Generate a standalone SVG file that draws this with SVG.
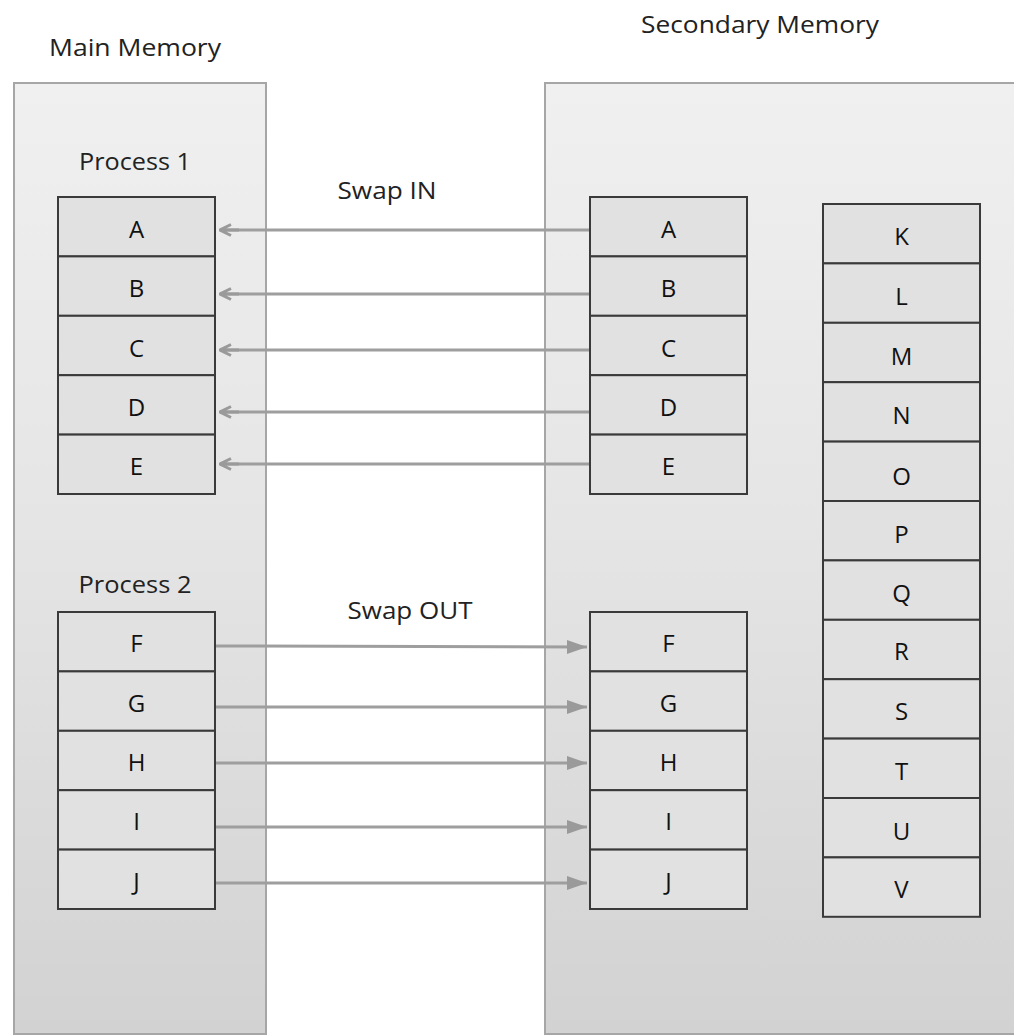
<svg xmlns="http://www.w3.org/2000/svg" width="1014" height="1036" viewBox="0 0 1014 1036">
<defs>
<linearGradient id="cg" x1="0" y1="0" x2="0" y2="1">
<stop offset="0" stop-color="#f0f0f0"/>
<stop offset="0.5" stop-color="#e4e4e4"/>
<stop offset="1" stop-color="#d2d2d2"/>
</linearGradient>
<marker id="hin" viewBox="0 0 20 16" refX="19" refY="8" markerWidth="20" markerHeight="16" markerUnits="userSpaceOnUse" orient="auto">
<path d="M0,8 L19,8 M8,2.5 L19,8 L8,13.5" stroke="#9a9a9a" stroke-width="3" fill="none"/>
</marker>
<marker id="hout" viewBox="0 0 20 16" refX="20" refY="8" markerWidth="20" markerHeight="16" markerUnits="userSpaceOnUse" orient="auto">
<path d="M0,1 L20,8 L0,15 Z" fill="#9a9a9a"/>
</marker>
</defs>
<style>
.box{fill:url(#cg);stroke:#a6a6a6;stroke-width:2}
.cell{fill:#e1e1e1;stroke:#3a3a3a;stroke-width:2}
.t{font-family:"Open Sans","Liberation Sans",sans-serif;font-size:24px;fill:#222;text-anchor:middle}
.c{font-family:"Open Sans","Liberation Sans",sans-serif;font-size:24px;fill:#111;text-anchor:middle;dominant-baseline:central}
.ar{stroke:#9e9e9e;stroke-width:3;fill:none}
</style>
<rect width="1014" height="1036" fill="#ffffff"/>
<g id="main-memory">
<rect class="box" x="14" y="83" width="252" height="951"/>
<text class="t" x="135" y="56" textLength="172" lengthAdjust="spacingAndGlyphs">Main Memory</text>
</g>
<g id="secondary-memory">
<rect class="box" x="545" y="83" width="480" height="951"/>
<text class="t" x="760" y="33" textLength="238" lengthAdjust="spacingAndGlyphs">Secondary Memory</text>
</g>
<text class="t" x="135" y="170" textLength="112" lengthAdjust="spacingAndGlyphs">Process 1</text>
<text class="t" x="135" y="593" textLength="113" lengthAdjust="spacingAndGlyphs">Process 2</text>
<text class="t" x="387" y="199" textLength="99" lengthAdjust="spacingAndGlyphs">Swap IN</text>
<text class="t" x="410" y="619" textLength="125" lengthAdjust="spacingAndGlyphs">Swap OUT</text>
<g id="p1">
<g id="p1-A"><rect class="cell" x="58" y="197" width="157" height="59.4"/><text class="c" x="136.5" y="228">A</text></g>
<g id="p1-B"><rect class="cell" x="58" y="256.4" width="157" height="59.4"/><text class="c" x="136.5" y="287">B</text></g>
<g id="p1-C"><rect class="cell" x="58" y="315.8" width="157" height="59.4"/><text class="c" x="136.5" y="347">C</text></g>
<g id="p1-D"><rect class="cell" x="58" y="375.2" width="157" height="59.4"/><text class="c" x="136.5" y="406">D</text></g>
<g id="p1-E"><rect class="cell" x="58" y="434.6" width="157" height="59.4"/><text class="c" x="136.5" y="465">E</text></g>
</g>
<g id="p2">
<g id="p2-F"><rect class="cell" x="58" y="612" width="157" height="59.4"/><text class="c" x="136.5" y="642">F</text></g>
<g id="p2-G"><rect class="cell" x="58" y="671.4" width="157" height="59.4"/><text class="c" x="136.5" y="702">G</text></g>
<g id="p2-H"><rect class="cell" x="58" y="730.8" width="157" height="59.4"/><text class="c" x="136.5" y="761">H</text></g>
<g id="p2-I"><rect class="cell" x="58" y="790.2" width="157" height="59.4"/><text class="c" x="136.5" y="820">I</text></g>
<g id="p2-J"><rect class="cell" x="58" y="849.6" width="157" height="59.4"/><text class="c" x="136.5" y="880">J</text></g>
</g>
<g id="s1">
<g id="s-A"><rect class="cell" x="590" y="197" width="157" height="59.4"/><text class="c" x="668.5" y="228">A</text></g>
<g id="s-B"><rect class="cell" x="590" y="256.4" width="157" height="59.4"/><text class="c" x="668.5" y="287">B</text></g>
<g id="s-C"><rect class="cell" x="590" y="315.8" width="157" height="59.4"/><text class="c" x="668.5" y="347">C</text></g>
<g id="s-D"><rect class="cell" x="590" y="375.2" width="157" height="59.4"/><text class="c" x="668.5" y="406">D</text></g>
<g id="s-E"><rect class="cell" x="590" y="434.6" width="157" height="59.4"/><text class="c" x="668.5" y="465">E</text></g>
</g>
<g id="s2">
<g id="s-F"><rect class="cell" x="590" y="612" width="157" height="59.4"/><text class="c" x="668.5" y="642">F</text></g>
<g id="s-G"><rect class="cell" x="590" y="671.4" width="157" height="59.4"/><text class="c" x="668.5" y="702">G</text></g>
<g id="s-H"><rect class="cell" x="590" y="730.8" width="157" height="59.4"/><text class="c" x="668.5" y="761">H</text></g>
<g id="s-I"><rect class="cell" x="590" y="790.2" width="157" height="59.4"/><text class="c" x="668.5" y="820">I</text></g>
<g id="s-J"><rect class="cell" x="590" y="849.6" width="157" height="59.4"/><text class="c" x="668.5" y="880">J</text></g>
</g>
<g id="s3">
<g id="s-K"><rect class="cell" x="823" y="204" width="157" height="59.4"/><text class="c" x="901.5" y="235">K</text></g>
<g id="s-L"><rect class="cell" x="823" y="263.4" width="157" height="59.4"/><text class="c" x="901.5" y="295">L</text></g>
<g id="s-M"><rect class="cell" x="823" y="322.8" width="157" height="59.4"/><text class="c" x="901.5" y="355">M</text></g>
<g id="s-N"><rect class="cell" x="823" y="382.2" width="157" height="59.4"/><text class="c" x="901.5" y="414">N</text></g>
<g id="s-O"><rect class="cell" x="823" y="441.6" width="157" height="59.4"/><text class="c" x="901.5" y="475">O</text></g>
<g id="s-P"><rect class="cell" x="823" y="501" width="157" height="59.4"/><text class="c" x="901.5" y="533">P</text></g>
<g id="s-Q"><rect class="cell" x="823" y="560.4" width="157" height="59.4"/><text class="c" x="901.5" y="592">Q</text></g>
<g id="s-R"><rect class="cell" x="823" y="619.8" width="157" height="59.4"/><text class="c" x="901.5" y="650">R</text></g>
<g id="s-S"><rect class="cell" x="823" y="679.2" width="157" height="59.4"/><text class="c" x="901.5" y="710">S</text></g>
<g id="s-T"><rect class="cell" x="823" y="738.6" width="157" height="59.4"/><text class="c" x="901.5" y="770">T</text></g>
<g id="s-U"><rect class="cell" x="823" y="798" width="157" height="59.4"/><text class="c" x="901.5" y="830">U</text></g>
<g id="s-V"><rect class="cell" x="823" y="857.4" width="157" height="59.4"/><text class="c" x="901.5" y="888">V</text></g>
</g>
<g id="connectors">
<line class="ar" x1="589" y1="230" x2="220" y2="230" marker-end="url(#hin)"/>
<line class="ar" x1="589" y1="294" x2="220" y2="294" marker-end="url(#hin)"/>
<line class="ar" x1="589" y1="350" x2="220" y2="350" marker-end="url(#hin)"/>
<line class="ar" x1="589" y1="412" x2="220" y2="412" marker-end="url(#hin)"/>
<line class="ar" x1="589" y1="464" x2="220" y2="464" marker-end="url(#hin)"/>
<line class="ar" x1="216" y1="646" x2="587" y2="647" marker-end="url(#hout)"/>
<line class="ar" x1="216" y1="707" x2="587" y2="707" marker-end="url(#hout)"/>
<line class="ar" x1="216" y1="763" x2="587" y2="763" marker-end="url(#hout)"/>
<line class="ar" x1="216" y1="827" x2="587" y2="827" marker-end="url(#hout)"/>
<line class="ar" x1="216" y1="883" x2="587" y2="883" marker-end="url(#hout)"/>
</g>
</svg>
